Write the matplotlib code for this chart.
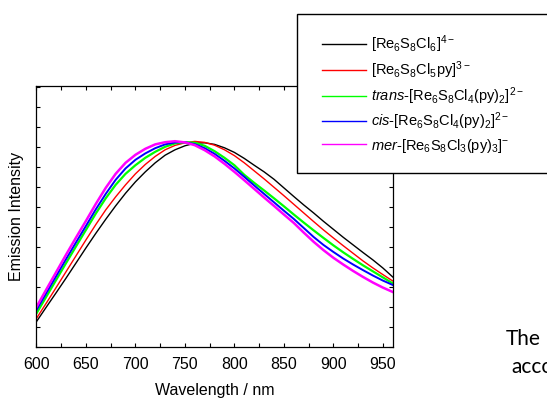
import matplotlib
matplotlib.use('Agg')
import matplotlib.pyplot as plt
from matplotlib.patches import Rectangle
from matplotlib.ticker import MultipleLocator, NullFormatter

plt.rcParams['font.family'] = ['Liberation Sans', 'DejaVu Sans']
plt.rcParams['mathtext.fontset'] = 'custom'
plt.rcParams['mathtext.rm'] = 'Liberation Sans'
plt.rcParams['mathtext.it'] = 'Liberation Sans:italic'
plt.rcParams['mathtext.default'] = 'regular'

# wavelength (nm), shared by all five spectra
wl = [600, 610, 620, 630, 640, 650, 660, 670, 680, 690,
      700, 710, 720, 730, 740, 750, 760, 770, 780, 790,
      800, 810, 820, 830, 840, 850, 860, 870, 880, 890,
      900, 910, 920, 930, 940, 950, 960]

# emission intensity (arb. units)
em_black = [1.27, 2.0, 2.72, 3.45, 4.2, 4.95, 5.68, 6.38, 7.05, 7.68,
            8.25, 8.75, 9.2, 9.58, 9.85, 10.05, 10.18, 10.2, 10.12, 9.95,
            9.72, 9.42, 9.08, 8.75, 8.38, 7.95, 7.52, 7.1, 6.7, 6.28,
            5.88, 5.48, 5.1, 4.72, 4.35, 3.95, 3.5]
em_red = [1.43, 2.2, 2.98, 3.77, 4.56, 5.35, 6.12, 6.85, 7.5, 8.1,
          8.65, 9.12, 9.52, 9.85, 10.07, 10.2, 10.27, 10.22, 10.08, 9.85,
          9.56, 9.2, 8.8, 8.4, 7.98, 7.56, 7.13, 6.7, 6.27, 5.85,
          5.45, 5.06, 4.68, 4.3, 3.95, 3.62, 3.3]
em_green = [1.68, 2.52, 3.36, 4.2, 5.03, 5.85, 6.67, 7.43, 8.1, 8.65,
            9.08, 9.45, 9.75, 10.0, 10.17, 10.23, 10.2, 10.05, 9.78, 9.45,
            9.08, 8.6, 8.2, 7.82, 7.43, 7.03, 6.62, 6.22, 5.83, 5.45,
            5.08, 4.73, 4.4, 4.08, 3.78, 3.48, 3.18]
em_blue = [1.85, 2.7, 3.55, 4.4, 5.23, 6.05, 6.88, 7.65, 8.35, 8.92,
           9.35, 9.67, 9.93, 10.12, 10.22, 10.23, 10.13, 9.93, 9.65, 9.3,
           8.92, 8.5, 8.07, 7.65, 7.23, 6.81, 6.4, 5.95, 5.5, 5.1,
           4.75, 4.42, 4.12, 3.84, 3.57, 3.32, 3.1]
em_mag = [2.0, 2.88, 3.75, 4.62, 5.47, 6.3, 7.15, 7.95, 8.65, 9.2,
          9.6, 9.9, 10.12, 10.23, 10.28, 10.22, 10.08, 9.83, 9.52, 9.15,
          8.75, 8.33, 7.9, 7.47, 7.05, 6.62, 6.2, 5.72, 5.26, 4.84,
          4.46, 4.12, 3.8, 3.5, 3.22, 2.97, 2.75]

labels = [r'[Re$_6$S$_8$Cl$_6$]$^{4-}$',
          r'[Re$_6$S$_8$Cl$_5$py]$^{3-}$',
          r'$\mathit{trans}$-[Re$_6$S$_8$Cl$_4$(py)$_2$]$^{2-}$',
          r'$\mathit{cis}$-[Re$_6$S$_8$Cl$_4$(py)$_2$]$^{2-}$',
          r'$\mathit{mer}$-[Re$_6$S$_8$Cl$_3$(py)$_3$]$^{-}$']

fig = plt.figure(figsize=(5.47, 3.98), dpi=100)
ax = fig.add_axes([0.0667, 0.1281, 0.6512, 0.6565])

l1, = ax.plot(wl, em_black, color='black', lw=1.0)
l2, = ax.plot(wl, em_red, color='#ff0000', lw=1.0)
l3, = ax.plot(wl, em_green, color='#00ff00', lw=1.6)
l4, = ax.plot(wl, em_blue, color='#0000ff', lw=1.4)
l5, = ax.plot(wl, em_mag, color='#ff00ff', lw=1.8)

ax.set_xlim(600, 960)
ax.set_ylim(0, 13.05)
ax.xaxis.set_major_locator(MultipleLocator(50))
ax.xaxis.set_minor_locator(MultipleLocator(25))
ax.yaxis.set_major_locator(MultipleLocator(1))
ax.yaxis.set_major_formatter(NullFormatter())
ax.tick_params(which='both', direction='in', length=3, width=0.8,
               top=True, right=True, labelsize=11.5, pad=7)
for s in ax.spines.values():
    s.set_linewidth(0.9)

ax.set_xlabel('Wavelength / nm', fontsize=11.5, labelpad=8)
ax.set_ylabel('Emission Intensity', fontsize=11.5, labelpad=2)

# legend box running off the right edge
box = Rectangle((0.5424, 0.5646), 0.6, 0.4002, transform=fig.transFigure,
                facecolor='white', edgecolor='black', lw=1.0, zorder=5)
fig.add_artist(box)
leg = fig.legend([l1, l2, l3, l4, l5], labels, loc='upper left',
                 bbox_to_anchor=(0.5887, 0.915), frameon=False, fontsize=10.5,
                 handlelength=3.0, handletextpad=0.35, labelspacing=0.28,
                 borderpad=0, borderaxespad=0)
leg.set_zorder(6)
for h in leg.get_lines():
    h.set_linewidth(1.0)

fig.text(506 / 547, 1 - 345 / 398, 'The', fontsize=15, family=['Lato', 'DejaVu Sans'],
         va='baseline', ha='left')
fig.text(511.5 / 547, 1 - 373 / 398, 'acco', fontsize=15, family=['Lato', 'DejaVu Sans'],
         va='baseline', ha='left')

fig.savefig('out.png', dpi=100)
